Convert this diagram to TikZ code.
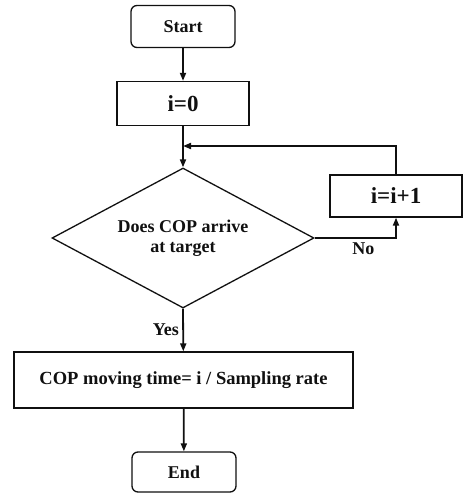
\documentclass[tikz,border=0pt]{standalone}
\usepackage{fontspec}
\setmainfont{Liberation Serif}
\definecolor{fcInk}{HTML}{101010}
\usepackage{tikz}
\usetikzlibrary{positioning,arrows.meta,shapes.geometric}

\begin{document}
\begin{tikzpicture}[x=1pt, y=-1pt,
  term/.style={draw=fcInk, line width=1.3pt, rounded corners=6pt, text=fcInk,
    minimum width=104pt, minimum height=42pt, align=center,
    font=\fontsize{18}{21}\selectfont\bfseries},
  proc/.style={draw=fcInk, line width=1.3pt, text=fcInk,
    minimum width=132pt, minimum height=44pt, align=center,
    font=\fontsize{23}{26}\selectfont\bfseries},
  decide/.style={diamond, draw=fcInk, line width=1.3pt, text=fcInk, aspect=1.87,
    inner sep=0pt, minimum width=262pt, minimum height=140pt, align=center,
    font=\fontsize{18}{20}\selectfont\bfseries},
  arr/.style={-{Triangle[length=8pt, width=6pt]}, line width=1.8pt, color=fcInk},
  lbl/.style={text=fcInk, font=\fontsize{18}{21}\selectfont\bfseries}
]
  \useasboundingbox (0,0) rectangle (463,493);

  \node[term] (start) at (183,26.5) {Start};
  \node[proc] (init) at (183,103.5) {i=0};
  \node[decide] (check) at (183,238) {Does COP arrive\\at target};
  \node[proc, minimum height=42pt] (incr) at (396,196) {i=i+1};
  \node[proc, minimum width=339pt, minimum height=56pt,
    font=\fontsize{18.5}{21}\selectfont\bfseries] (result) at (183.5,380)
    {COP moving time= i / Sampling rate};
  \node[term, minimum height=40pt] (stop) at (184,472) {End};
  \coordinate (join) at (183,146);

  \draw[arr] (start) -- (init);
  \draw[arr] (init) -- (check);
  \draw[arr] (check.east) -| node[lbl, below, pos=0.3] {No} (incr.south);
  \draw[arr] (incr.north) |- (join);
  \draw[arr] (check.south) -- node[lbl, left] {Yes} (result);
  \draw[arr] (result) -- (stop);
\end{tikzpicture}
\end{document}
